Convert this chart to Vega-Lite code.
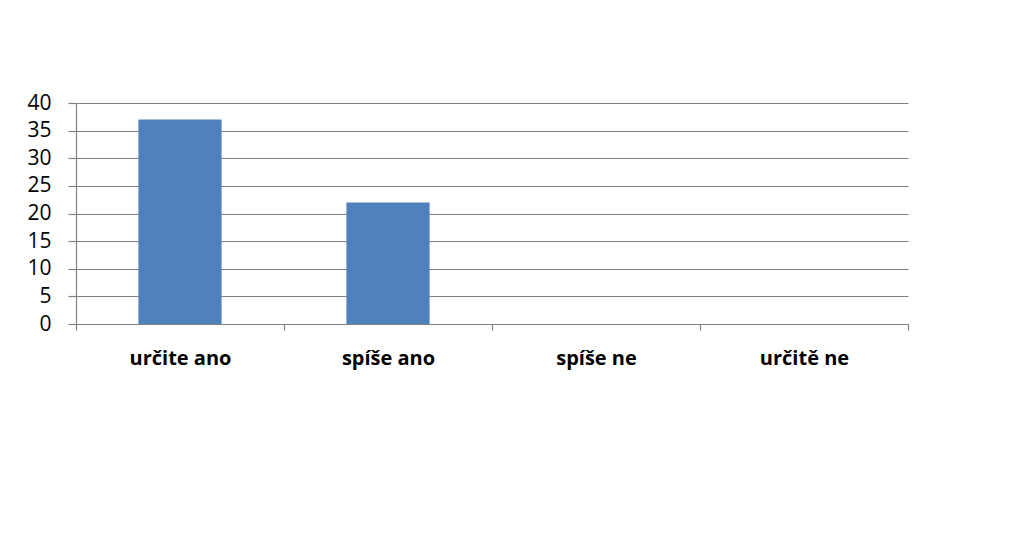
{
  "$schema": "https://vega.github.io/schema/vega-lite/v6.json",
  "autosize": {"type": "none"},
  "width": 832,
  "height": 221,
  "padding": {"left": 76, "top": 103, "right": 103, "bottom": 224},
  "background": "white",
  "data": {
    "values": [
      {"odpoved": "určite ano", "pocet": 37},
      {"odpoved": "spíše ano", "pocet": 22},
      {"odpoved": "spíše ne", "pocet": 0},
      {"odpoved": "určitě ne", "pocet": 0}
    ]
  },
  "mark": {"type": "bar", "color": "#4f81bd", "width": {"band": 0.4}},
  "encoding": {
    "x": {
      "field": "odpoved",
      "type": "nominal",
      "sort": null,
      "scale": {"paddingInner": 0, "paddingOuter": 0},
      "axis": {
        "title": null,
        "labelAngle": 0,
        "labelFont": "Open Sans",
        "labelFontWeight": "bold",
        "labelFontSize": 20,
        "labelColor": "#000000",
        "labelPadding": 18,
        "tickBand": "extent",
        "tickSize": 6,
        "tickColor": "#808080",
        "domainColor": "#808080",
        "grid": false
      }
    },
    "y": {
      "field": "pocet",
      "type": "quantitative",
      "scale": {"domain": [0, 40]},
      "axis": {
        "title": null,
        "values": [0, 5, 10, 15, 20, 25, 30, 35, 40],
        "labelFont": "Open Sans",
        "labelFontSize": 21,
        "labelColor": "#000000",
        "labelPadding": 17,
        "tickSize": 8,
        "tickColor": "#808080",
        "domainColor": "#808080",
        "gridColor": "#808080",
        "grid": true
      }
    }
  },
  "config": {
    "view": {"stroke": null},
    "axis": {"domainWidth": 1.2, "tickWidth": 1.2, "gridWidth": 1.2}
  }
}
